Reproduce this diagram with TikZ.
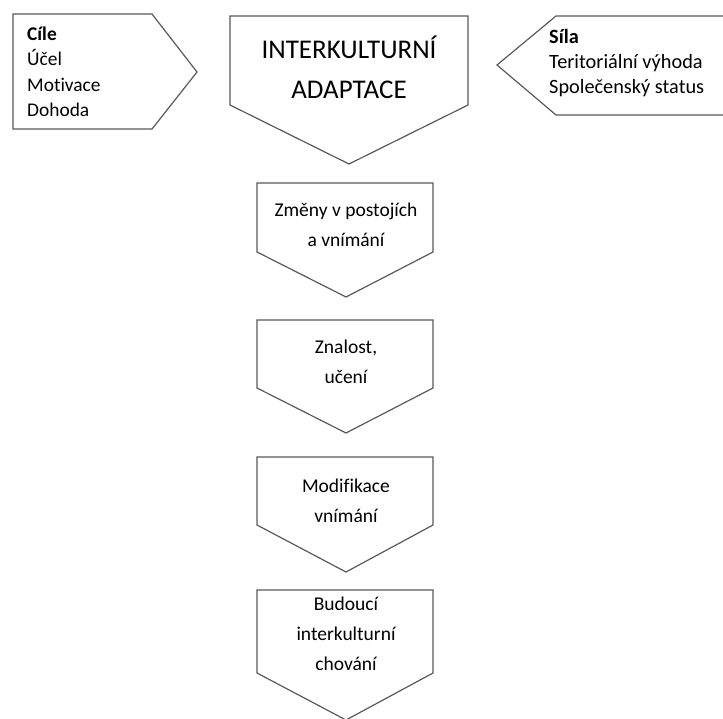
\documentclass[tikz,border=0pt]{standalone}
\usepackage{fontspec}
\setmainfont{Carlito}[Ligatures=NoCommon]
\begin{document}
\begin{tikzpicture}[x=1pt,y=-1pt]

\tikzset{outline/.style = {draw=black!65, line width=1.2pt, line join=miter}}
\tikzset{label/.style = {align=center, inner sep=0pt, font=\fontsize{19.5}{30}\selectfont}}
\tikzset{side/.style = {align=left, anchor=west, inner sep=0pt, font=\fontsize{19.4}{25.5}\selectfont}}

\useasboundingbox (0,0) rectangle (723,718);

% shapes
\draw[outline] (13,14) -- (152,14) -- (197,72) -- (152,129) -- (13,129) -- cycle;
\draw[outline] (230,16) -- (468,16) -- (468,105) -- (349,164) -- (230,105) -- cycle;
\draw[outline] (730,16) -- (556,16) -- (497,65) -- (556,115) -- (730,115);
\draw[outline] (257,183) -- (433,183) -- (433,252) -- (346,297) -- (257,252) -- cycle;
\draw[outline] (257,320) -- (433,320) -- (433,388) -- (346,433) -- (257,388) -- cycle;
\draw[outline] (257,457) -- (433,457) -- (433,525) -- (346,572) -- (257,525) -- cycle;
\draw[outline] (257,590) -- (433,590) -- (433,673) -- (346,720) -- (257,673) -- cycle;

% labels
\node[side] (goals) at (27,72) {\textbf{Cíle}\\Účel\\Motivace\\Dohoda};
\node[side, font=\fontsize{20.3}{25}\selectfont] (power) at (549,63.5) {\textbf{Síla}\\Teritoriální výhoda\\Společenský status};
\node[label, font=\fontsize{27}{40}\selectfont] (adapt) at (349,67.5) {INTERKULTURNÍ\\ADAPTACE};
\node[label] (change) at (346,225) {Změny v postojích\\a vnímání};
\node[label] (know) at (346,362) {Znalost,\\učení};
\node[label] (modif) at (346,501) {Modifikace\\vnímání};
\node[label] (future) at (346,634) {Budoucí\\interkulturní\\chování};

\end{tikzpicture}
\end{document}
